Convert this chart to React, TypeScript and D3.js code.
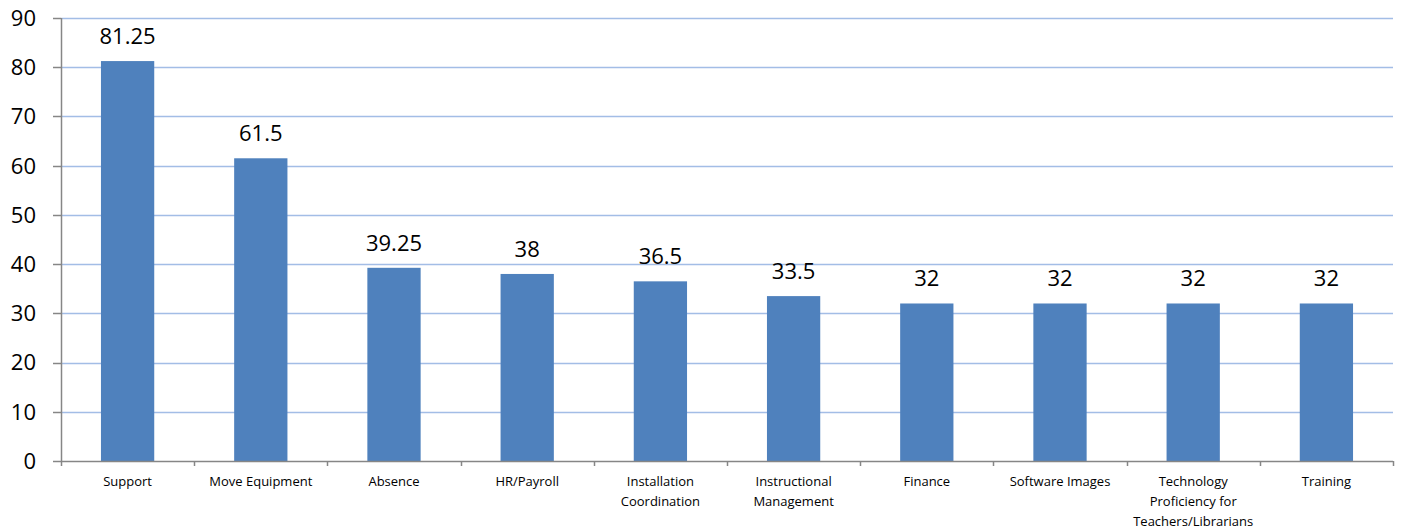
import * as d3 from "d3";

const categories = [
  "Support",
  "Move Equipment",
  "Absence",
  "HR/Payroll",
  "Installation\nCoordination",
  "Instructional\nManagement",
  "Finance",
  "Software Images",
  "Technology\nProficiency for\nTeachers/Librarians",
  "Training",
];
const values = [81.25, 61.5, 39.25, 38, 36.5, 33.5, 32, 32, 32, 32];
const yTicks = [0, 10, 20, 30, 40, 50, 60, 70, 80, 90];

export default function App() {
  const width = 1403;
  const height = 529;
  const marginLeft = 61;
  const marginRight = 10;
  const marginTop = 18;
  const bottom = 461;
  const font = "Open Sans, Noto Sans, sans-serif";

  // bands with inner ticks between categories, bars take 40% of each band
  const x = d3
    .scaleBand<string>()
    .domain(categories)
    .range([marginLeft, width - marginRight])
    .padding(0);
  const y = d3.scaleLinear().domain([0, 90]).range([bottom, marginTop]);

  const bandW = x.bandwidth();
  const barW = bandW * 0.4;
  const snap = (v: number) => Math.round(v) + 0.5;

  return (
    <svg
      width={width}
      height={height}
      style={{ position: "absolute", left: 0, top: 0, background: "#fff" }}
      fontFamily={font}
    >
      {/* gridlines */}
      {yTicks.slice(1).map((t) => (
        <line
          key={t}
          x1={marginLeft}
          x2={width - marginRight}
          y1={snap(y(t))}
          y2={snap(y(t))}
          stroke="#a3bde6"
          strokeWidth={1.5}
        />
      ))}
      {/* bars + value labels */}
      {values.map((v, i) => {
        const cx = x(categories[i])! + bandW / 2;
        return (
          <g key={i}>
            <rect x={cx - barW / 2} y={y(v)} width={barW} height={bottom - y(v)} fill="#4f81bd" />
            <text x={cx} y={y(v) - 17} textAnchor="middle" fontSize={22} fill="#000">
              {v}
            </text>
          </g>
        );
      })}
      {/* y axis */}
      <line x1={marginLeft + 0.5} x2={marginLeft + 0.5} y1={marginTop} y2={bottom + 5} stroke="#868686" strokeWidth={1.5} />
      {yTicks.map((t) => (
        <g key={t}>
          <line x1={marginLeft - 8} x2={marginLeft} y1={snap(y(t))} y2={snap(y(t))} stroke="#868686" strokeWidth={1.5} />
          <text x={36} y={y(t)} dy="0.36em" textAnchor="end" fontSize={22} fill="#000">
            {t}
          </text>
        </g>
      ))}
      {/* x axis */}
      <line x1={marginLeft} x2={width - marginRight} y1={bottom + 0.5} y2={bottom + 0.5} stroke="#868686" strokeWidth={1.5} />
      {categories.map((c) => (
        <line
          key={"t" + c}
          x1={snap(x(c)! + bandW)}
          x2={snap(x(c)! + bandW)}
          y1={bottom}
          y2={bottom + 5}
          stroke="#868686"
          strokeWidth={1.5}
        />
      ))}
      {categories.map((c) => {
        const cx = x(c)! + bandW / 2;
        return (
          <text key={c} x={cx} y={486} textAnchor="middle" fontSize={13} fill="#000">
            {c.split("\n").map((line, j) => (
              <tspan key={j} x={cx} dy={j === 0 ? 0 : 20}>
                {line}
              </tspan>
            ))}
          </text>
        );
      })}
    </svg>
  );
}
